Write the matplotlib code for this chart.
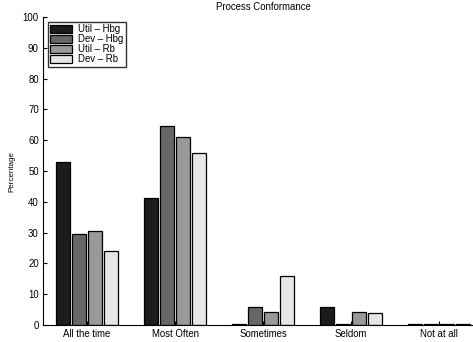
import numpy as np
import matplotlib
matplotlib.use("Agg")
import matplotlib.pyplot as plt

plt.rcParams['font.family'] = ['Liberation Sans', 'DejaVu Sans']

# data
categories = ["All the time", "Most Often", "Sometimes", "Seldom", "Not at all"]
series_names = ["Util \u2013 Hbg", "Dev \u2013 Hbg", "Util \u2013 Rb", "Dev \u2013 Rb"]
util_hbg = [53.0, 41.2, 0.3, 5.9, 0.3]
dev_hbg = [29.4, 64.7, 5.9, 0.3, 0.3]
util_rb = [30.4, 60.9, 4.3, 4.3, 0.3]
dev_rb = [24.0, 56.0, 16.0, 4.0, 0.3]
series = [util_hbg, dev_hbg, util_rb, dev_rb]
colors = ["#1c1c1c", "#666666", "#999999", "#e6e6e6"]

fig = plt.figure(figsize=(4.73, 3.42), dpi=100)
ax = fig.add_axes([43 / 473, 1 - 325 / 342, 440 / 473, 308 / 342])

x = np.arange(1, len(categories) + 1)
width = 0.156
step = 0.182
for i, (vals, name, c) in enumerate(zip(series, series_names, colors)):
    off = (i - 1.5) * step
    ax.bar(x + off, vals, width, color=c, edgecolor="black", linewidth=0.9, label=name)

ax.set_xlim(0.5, 5.5)
ax.set_ylim(0, 100)
ax.set_xticks(x)
ax.set_xticklabels(categories)
ax.set_yticks(np.arange(0, 101, 10))
ax.tick_params(direction="in", length=3, width=0.8, labelsize=6.9, pad=3)
for s in ["top", "right"]:
    ax.spines[s].set_visible(False)
for s in ["left", "bottom"]:
    ax.spines[s].set_linewidth(0.8)

ax.set_ylabel("Percentage", fontsize=5.8, labelpad=5)
ax.set_title("Process Conformance", fontsize=6.9, pad=5)

leg = ax.legend(loc="upper left", bbox_to_anchor=(0.011, 0.984), borderaxespad=0,
                fontsize=6.9, frameon=True, fancybox=False, handlelength=2.3,
                handleheight=0.8, labelspacing=0.0, borderpad=0.25, handletextpad=0.6)
leg.get_frame().set_edgecolor("black")
leg.get_frame().set_linewidth(1.0)

fig.savefig("out.png", dpi=100)
